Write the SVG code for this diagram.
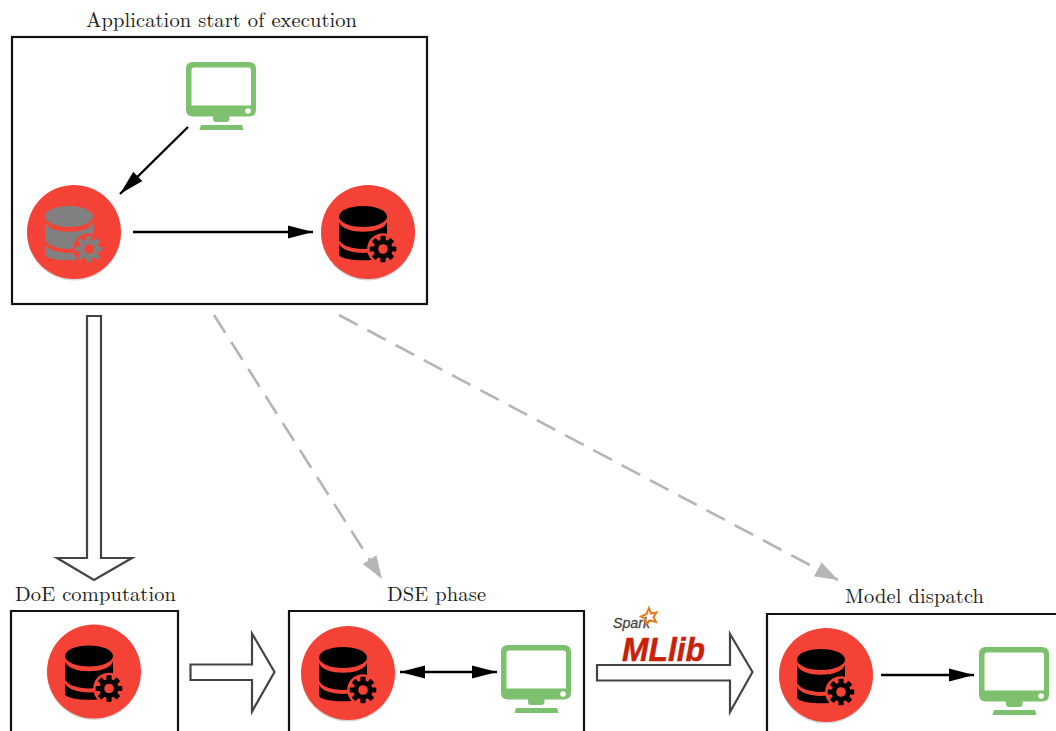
<svg xmlns="http://www.w3.org/2000/svg" xmlns:xlink="http://www.w3.org/1999/xlink" width="1056" height="731" viewBox="0 0 1056 731">
<style>
.box{fill:none;stroke:#111;stroke-width:2.2}
.lbl{font-family:"Latin Modern Roman","CMU Serif","Liberation Serif","Times New Roman",serif;font-size:20.500px;fill:#1a1a1a}
.edge{fill:none;stroke:#000;stroke-width:2.4}
.dash{fill:none;stroke:#b5b5b5;stroke-width:2.6;stroke-dasharray:21 11}
.hollow{fill:#fff;stroke:#444;stroke-width:2.2;stroke-linejoin:miter}
.disc{fill:#f44336}
.shade{fill:#000;opacity:.16}
.black{fill:#000}
.grey{fill:#808080}
</style>
<defs>
<marker id="ah" markerUnits="userSpaceOnUse" markerWidth="26" markerHeight="14" refX="25" refY="7" orient="auto-start-reverse"><path d="M0,0.500L25,7L0,13.500z" fill="#000"/></marker>
<marker id="ag" markerUnits="userSpaceOnUse" markerWidth="24" markerHeight="18" refX="23" refY="9" orient="auto"><path d="M0,1L23,9L0,17z" fill="#b5b5b5"/></marker>
<g id="dbgear">
<ellipse cx="-5" cy="-15.500" rx="24" ry="10.500"/>
<path d="M-29,-10C-25,3 15,3 19,-10V7.500C15,20 -25,20 -29,7.500z"/>
<path d="M-29,11.500C-25,24 15,24 19,11.500V23C15,30 -25,30 -29,23z"/>
<circle cx="15" cy="17" r="15.800" fill="#f44336"/>
<g transform="translate(15,17)">
<circle r="9.500"/>
<rect x="-2.600" y="-13.300" width="5.200" height="26.600" rx="1"/>
<rect x="-2.600" y="-13.300" width="5.200" height="26.600" rx="1" transform="rotate(45)"/>
<rect x="-2.600" y="-13.300" width="5.200" height="26.600" rx="1" transform="rotate(90)"/>
<rect x="-2.600" y="-13.300" width="5.200" height="26.600" rx="1" transform="rotate(135)"/>
<circle r="4.800" fill="#f44336"/>
</g>
</g>
<g id="monitor" fill="#7dc06d">
<path fill-rule="evenodd" d="M7,0H63Q70,0 70,7V47.500Q70,54.500 63,54.500H7Q0,54.500 0,47.500V7Q0,0 7,0zM8,5.500Q5.500,5.500 5.500,8V43.500H65V8Q65,5.500 62.500,5.500z"/>
<path d="M27,54H43.500V57Q43.500,60 40,60H30.500Q27,60 27,57z"/>
<path d="M15,63H56L57.500,68H13.500z"/>
<circle cx="62" cy="49" r="2.800" fill="#fff"/>
</g>
</defs>

<g id="connectors">
<line class="edge" x1="188" y1="127" x2="120" y2="194" marker-end="url(#ah)"/>
<line class="edge" x1="133" y1="232" x2="313" y2="232" marker-end="url(#ah)"/>
<line class="edge" x1="400" y1="672" x2="497" y2="672" marker-start="url(#ah)" marker-end="url(#ah)"/>
<line class="edge" x1="881" y1="675" x2="974" y2="675" marker-end="url(#ah)"/>
<line class="dash" x1="214" y1="315" x2="382" y2="579" marker-end="url(#ag)"/>
<line class="dash" x1="339" y1="315" x2="838" y2="580" marker-end="url(#ag)"/>
<path class="hollow" d="M87,316H101V558H132L94,580L57,558H87z"/>
<path class="hollow" d="M190.500,664.500H252V633.500L274.500,672L252,711.500V680H190.500z"/>
<path class="hollow" d="M597,665H730V634L752.500,672L730,712V680.500H597z"/>
</g>

<g id="start-box">
<text class="lbl" x="86" y="27" textLength="271" lengthAdjust="spacing">Application start of execution</text>
<rect class="box" x="12" y="37" width="415" height="267"/>
</g>
<g id="start-monitor"><use xlink:href="#monitor" href="#monitor" x="186" y="62"/></g>
<g id="start-db-grey">
<circle class="shade" cx="74" cy="233.500" r="47"/>
<circle class="disc" cx="74" cy="232" r="47"/>
<use xlink:href="#dbgear" href="#dbgear" class="grey" x="74" y="232"/>
</g>
<g id="start-db-black">
<circle class="shade" cx="368" cy="233.500" r="47"/>
<circle class="disc" cx="368" cy="232" r="47"/>
<use xlink:href="#dbgear" href="#dbgear" class="black" x="368" y="232"/>
</g>

<g id="doe-box">
<text class="lbl" x="15" y="601" textLength="161" lengthAdjust="spacing">DoE computation</text>
<path class="box" d="M11,733V611H178V733"/>
</g>
<g id="doe-db">
<circle class="shade" cx="94" cy="673" r="47"/>
<circle class="disc" cx="94" cy="671.500" r="47"/>
<use xlink:href="#dbgear" href="#dbgear" class="black" x="94" y="671.500"/>
</g>

<g id="dse-box">
<text class="lbl" x="387" y="601" textLength="99" lengthAdjust="spacing">DSE phase</text>
<path class="box" d="M289,733V611H584V733"/>
</g>
<g id="dse-db">
<circle class="shade" cx="348" cy="674.500" r="47"/>
<circle class="disc" cx="348" cy="673" r="47"/>
<use xlink:href="#dbgear" href="#dbgear" class="black" x="348" y="673"/>
</g>
<g id="dse-monitor"><use xlink:href="#monitor" href="#monitor" x="501" y="645"/></g>

<g id="mllib-logo">
<text x="613" y="628" font-family="'Liberation Sans',Arial,sans-serif" font-style="italic" font-size="15px" fill="#444" stroke="#444" stroke-width=".3" textLength="37" lengthAdjust="spacingAndGlyphs">Spark</text>
<path d="M649,608L651,613.500L656.500,612.500L653.500,617L656,622L650.500,620.500L646,624.500L645.500,619L641,616.500L646.500,614z" fill="none" stroke="#e8791e" stroke-width="2"/>
<text x="622" y="661" font-family="'Liberation Sans',Arial,sans-serif" font-style="italic" font-weight="700" font-size="33px" fill="#c8200a" stroke="#c8200a" stroke-width=".5" textLength="83" lengthAdjust="spacingAndGlyphs">MLlib</text>
</g>

<g id="model-box">
<text class="lbl" x="845" y="603" textLength="139" lengthAdjust="spacing">Model dispatch</text>
<path class="box" d="M767,733V614H1058"/>
</g>
<g id="model-db">
<circle class="shade" cx="826" cy="676.500" r="47"/>
<circle class="disc" cx="826" cy="675" r="47"/>
<use xlink:href="#dbgear" href="#dbgear" class="black" x="826" y="675"/>
</g>
<g id="model-monitor"><use xlink:href="#monitor" href="#monitor" x="979" y="647"/></g>
</svg>
